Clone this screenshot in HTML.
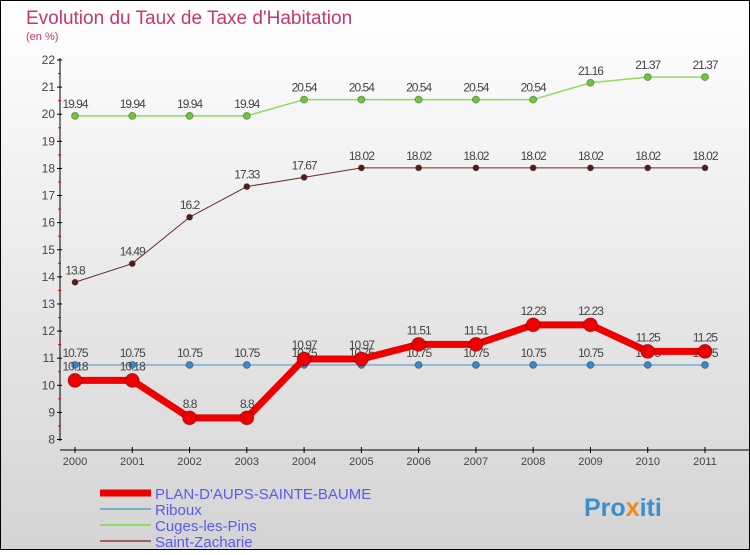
<!DOCTYPE html>
<html><head><meta charset="utf-8"><style>
body{margin:0;}
svg text{font-family:"Liberation Sans",sans-serif;}
</style></head><body>
<svg id="chart" width="750" height="550" xmlns="http://www.w3.org/2000/svg">
<defs><linearGradient id="bg" x1="0" y1="0" x2="0" y2="1"><stop offset="0" stop-color="#ffffff"/><stop offset="1" stop-color="#d4d4d4"/></linearGradient></defs>
<rect x="0.5" y="0.5" width="749" height="549" fill="url(#bg)" stroke="#000"/>
<text x="26" y="24" font-size="19" fill="#c8366a">Evolution du Taux de Taxe d'Habitation</text>
<text x="26" y="40" font-size="11" fill="#c8366a">(en %)</text>
<g id="axes"></g><g id="series"></g><g id="legend"></g>
<text x="584" y="516" font-size="25" font-weight="bold" fill="#3a8fd0">Pro<tspan fill="#f08a1c">x</tspan>iti</text>
</svg>
<script>
const years=[2000,2001,2002,2003,2004,2005,2006,2007,2008,2009,2010,2011];
const plan=[10.18,10.18,8.8,8.8,10.97,10.97,11.51,11.51,12.23,12.23,11.25,11.25];
const riboux=[10.75,10.75,10.75,10.75,10.75,10.75,10.75,10.75,10.75,10.75,10.75,10.75];
const cuges=[19.94,19.94,19.94,19.94,20.54,20.54,20.54,20.54,20.54,21.16,21.37,21.37];
const zach=[13.8,14.49,16.2,17.33,17.67,18.02,18.02,18.02,18.02,18.02,18.02,18.02];
const yTicks=[8,9,10,11,12,13,14,15,16,17,18,19,20,21,22];
const NS="http://www.w3.org/2000/svg";
const X=i=>75+i*(630/11);
const Y=v=>439.5-(v-8)*(379.5/14);
function mk(t,a,p){const e=document.createElementNS(NS,t);for(const k in a)e.setAttribute(k,a[k]);p.appendChild(e);return e;}
const ax=document.getElementById('axes');
let e=mk('line',{x1:60,y1:58,x2:60,y2:441,stroke:'#000','stroke-width':1},ax);


e=mk('line',{x1:60,y1:450,x2:750,y2:450,stroke:'#000','stroke-width':1},ax);


yTicks.forEach(v=>{
 mk('line',{x1:57,y1:Y(v),x2:62,y2:Y(v),stroke:'#000'},ax);
 if(v<22)mk('line',{x1:58,y1:Y(v+0.5),x2:61,y2:Y(v+0.5),stroke:'#e00'},ax);
 const t=mk('text',{x:55,y:Y(v)+4,'font-size':12,fill:'#444','text-anchor':'end'},ax);t.textContent=v;
 
 
});
years.forEach((yr,i)=>{
 mk('line',{x1:X(i),y1:447,x2:X(i),y2:453,stroke:'#000'},ax);
 const t=mk('text',{x:X(i),y:465,'font-size':11,fill:'#444','text-anchor':'middle'},ax);t.textContent=yr;
 
 
});
const sg=document.getElementById('series');
function series(data,color,pcolor,w,r,name,labelOff){
 const g=mk('g',{},sg);
 
 
 mk('polyline',{points:data.map((v,i)=>X(i)+','+Y(v)).join(' '),fill:'none',stroke:color,'stroke-width':w,'stroke-linejoin':'round'},g);
 data.forEach((v,i)=>{
  const c=mk('circle',{cx:X(i),cy:Y(v),r:r,fill:pcolor,stroke:'rgba(0,0,0,0.3)','stroke-width':1},g);
  
  
  const t=mk('text',{x:X(i),y:Y(v)-labelOff,'font-size':12,fill:'#444','text-anchor':'middle','letter-spacing':'-1'},g);t.textContent=v;
  
  
 });
}
series(riboux,'#7aaed0','#3a88c8',1.5,3.5,'riboux',8);
series(cuges,'#8fdc60','#6cc83a',1.5,3.5,'cuges',8);
series(zach,'#6b2a2a','#5a1a1a',1,3,'saint-zacharie',8);
series(plan,'#ee0000','#ee0000',7,7,'plan-daups',10);
const lg=document.getElementById('legend');
[['PLAN-D\'AUPS-SAINTE-BAUME','#ee0000',7],['Riboux','#7aaed0',2],['Cuges-les-Pins','#8fdc60',2],['Saint-Zacharie','#a06060',2]].forEach((d,i)=>{
 const y=493+i*16;
 const g=mk('g',{},lg);
 
 
 mk('line',{x1:100,y1:y,x2:151,y2:y,stroke:d[1],'stroke-width':d[2]},g);
 const t=mk('text',{x:155,y:y+6,'font-size':15,fill:'#5a5af0'},g);t.textContent=d[0];
});
</script>
</body></html>
